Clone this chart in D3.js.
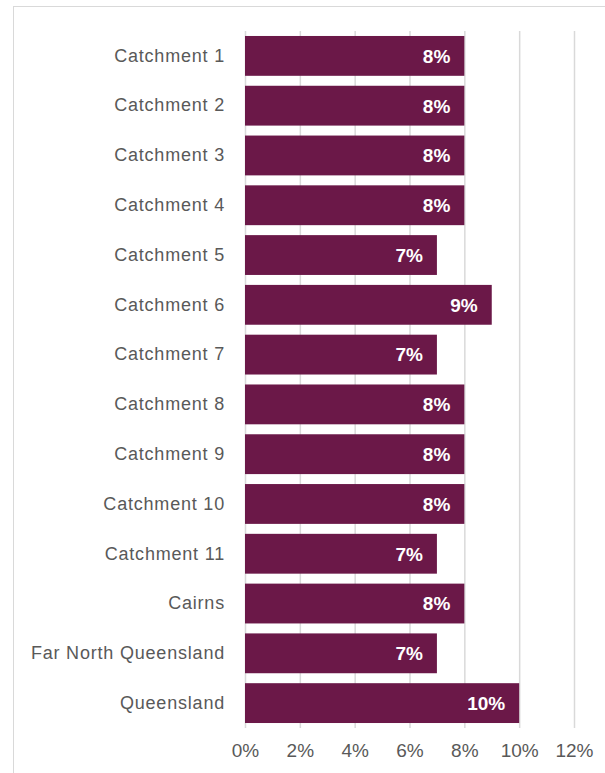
<!DOCTYPE html>
<html>
<head>
<meta charset="utf-8">
<script src="https://cdn.jsdelivr.net/npm/d3@7"></script>
<style>
  body { margin: 0; background: #fff; }
  text { font-family: "Liberation Sans", Arial, sans-serif; }
</style>
</head>
<body>
<script>
var categories = ['Catchment 1', 'Catchment 2', 'Catchment 3', 'Catchment 4', 'Catchment 5',
  'Catchment 6', 'Catchment 7', 'Catchment 8', 'Catchment 9', 'Catchment 10', 'Catchment 11',
  'Cairns', 'Far North Queensland', 'Queensland'];
var values = [0.08, 0.08, 0.08, 0.08, 0.07, 0.09, 0.07, 0.08, 0.08, 0.08, 0.07, 0.08, 0.07, 0.10];
var ticks = [0, 0.02, 0.04, 0.06, 0.08, 0.10, 0.12];

var W = 605, H = 773;
var svg = d3.select('body').append('svg')
  .attr('width', W)
  .attr('height', H);

// chart frame (runs off the right and bottom edge)
svg.append('rect')
  .attr('x', 13.5).attr('y', 6.5)
  .attr('width', W).attr('height', H)
  .attr('fill', 'none')
  .attr('stroke', '#d9d9d9');

var xScale = d3.scaleLinear().domain([0, 0.12]).range([245, 574]);
var yScale = d3.scaleBand().domain(categories).range([31, 728])
  .paddingInner(0.2).paddingOuter(0.1);

// grid lines
svg.append('g')
  .attr('transform', 'translate(0, 728)')
  .call(d3.axisBottom(xScale).tickValues(ticks).tickSize(-697).tickFormat(''))
  .call(function(g) {
    g.select('.domain').remove();
    g.selectAll('line').attr('stroke', '#d9d9d9').attr('stroke-width', 1.5);
  });

// bars
var data = categories.map(function(c, i) { return { c: c, v: values[i] }; });

svg.append('g').selectAll('rect')
  .data(data)
  .enter().append('rect')
  .attr('x', xScale(0))
  .attr('y', function(d) { return yScale(d.c); })
  .attr('width', function(d) { return xScale(d.v) - xScale(0); })
  .attr('height', yScale.bandwidth())
  .attr('fill', '#6b1848');

// value labels
svg.append('g').selectAll('text')
  .data(data)
  .enter().append('text')
  .attr('x', function(d) { return xScale(d.v) - 14; })
  .attr('y', function(d) { return yScale(d.c) + yScale.bandwidth() / 2; })
  .attr('dy', '0.36em')
  .attr('text-anchor', 'end')
  .attr('fill', '#fff')
  .attr('font-weight', 'bold')
  .attr('font-size', 19)
  .text(function(d) { return d3.format('.0%')(d.v); });

// category labels
svg.append('g')
  .attr('transform', 'translate(245, 0)')
  .call(d3.axisLeft(yScale).tickSize(0).tickPadding(20))
  .call(function(g) {
    g.select('.domain').remove();
    g.selectAll('text')
      .attr('font-size', 18)
      .attr('letter-spacing', '0.8px')
      .attr('fill', '#595959');
  });

// x tick labels
svg.append('g')
  .attr('transform', 'translate(0, 728)')
  .call(d3.axisBottom(xScale).tickValues(ticks).tickSize(0).tickPadding(16).tickFormat(d3.format('.0%')))
  .call(function(g) {
    g.select('.domain').remove();
    g.selectAll('text')
      .attr('font-size', 19)
      .attr('fill', '#595959');
  });
</script>
</body>
</html>
